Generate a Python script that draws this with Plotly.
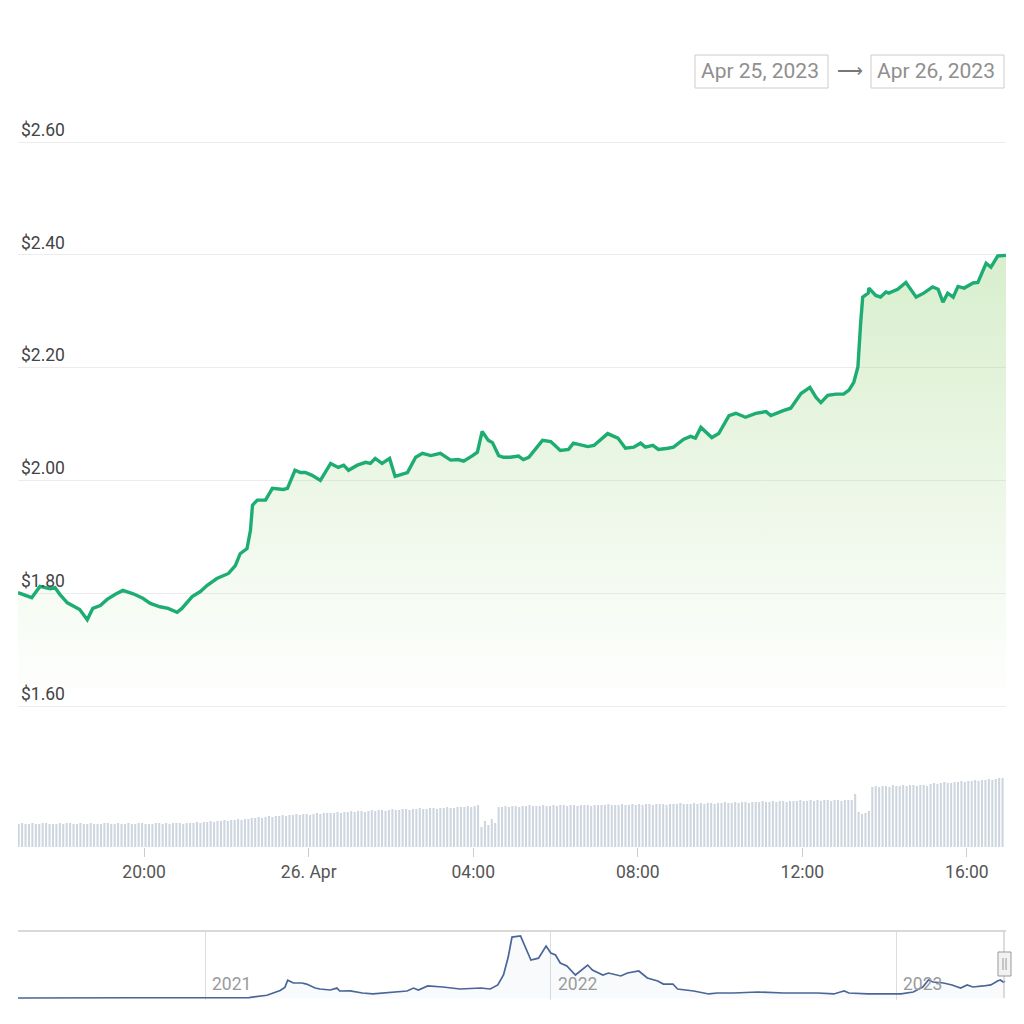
import plotly.graph_objects as go
from datetime import datetime, timedelta

# ---------------- data ----------------
price_times = [
    "2023-04-25 16:56", "2023-04-25 17:06", "2023-04-25 17:16", "2023-04-25 17:28", "2023-04-25 17:43",
    "2023-04-25 17:50", "2023-04-25 17:57", "2023-04-25 18:08", "2023-04-25 18:26", "2023-04-25 18:37",
    "2023-04-25 18:45", "2023-04-25 18:56", "2023-04-25 19:06", "2023-04-25 19:18", "2023-04-25 19:29",
    "2023-04-25 19:44", "2023-04-25 19:58", "2023-04-25 20:09", "2023-04-25 20:23", "2023-04-25 20:35",
    "2023-04-25 20:48", "2023-04-25 20:55", "2023-04-25 21:10", "2023-04-25 21:22", "2023-04-25 21:32",
    "2023-04-25 21:46", "2023-04-25 22:03", "2023-04-25 22:13", "2023-04-25 22:20", "2023-04-25 22:30",
    "2023-04-25 22:35", "2023-04-25 22:38", "2023-04-25 22:45", "2023-04-25 22:57", "2023-04-25 23:04",
    "2023-04-25 23:07", "2023-04-25 23:23", "2023-04-25 23:29", "2023-04-25 23:40", "2023-04-25 23:48",
    "2023-04-25 23:55",
    "2023-04-26 00:05", "2023-04-26 00:17", "2023-04-26 00:32", "2023-04-26 00:43", "2023-04-26 00:51",
    "2023-04-26 00:58", "2023-04-26 01:11", "2023-04-26 01:23", "2023-04-26 01:30", "2023-04-26 01:37",
    "2023-04-26 01:47", "2023-04-26 01:58", "2023-04-26 02:06", "2023-04-26 02:24", "2023-04-26 02:36",
    "2023-04-26 02:46", "2023-04-26 02:58", "2023-04-26 03:12", "2023-04-26 03:27", "2023-04-26 03:38",
    "2023-04-26 03:46", "2023-04-26 03:59", "2023-04-26 04:06", "2023-04-26 04:13", "2023-04-26 04:22",
    "2023-04-26 04:28", "2023-04-26 04:37", "2023-04-26 04:44", "2023-04-26 04:54", "2023-04-26 05:06",
    "2023-04-26 05:13", "2023-04-26 05:21", "2023-04-26 05:41", "2023-04-26 05:53", "2023-04-26 06:07",
    "2023-04-26 06:19", "2023-04-26 06:26", "2023-04-26 06:47", "2023-04-26 06:56", "2023-04-26 07:16",
    "2023-04-26 07:31", "2023-04-26 07:42", "2023-04-26 07:54", "2023-04-26 08:04", "2023-04-26 08:11",
    "2023-04-26 08:22", "2023-04-26 08:30", "2023-04-26 08:44", "2023-04-26 08:52", "2023-04-26 09:07",
    "2023-04-26 09:17", "2023-04-26 09:24", "2023-04-26 09:32", "2023-04-26 09:48", "2023-04-26 09:58",
    "2023-04-26 10:13", "2023-04-26 10:23", "2023-04-26 10:37", "2023-04-26 10:52", "2023-04-26 11:07",
    "2023-04-26 11:14", "2023-04-26 11:33", "2023-04-26 11:43", "2023-04-26 11:58", "2023-04-26 12:11",
    "2023-04-26 12:20", "2023-04-26 12:27", "2023-04-26 12:37", "2023-04-26 12:49", "2023-04-26 13:00",
    "2023-04-26 13:08", "2023-04-26 13:15", "2023-04-26 13:21", "2023-04-26 13:25", "2023-04-26 13:28",
    "2023-04-26 13:36", "2023-04-26 13:37", "2023-04-26 13:47", "2023-04-26 13:54", "2023-04-26 14:02",
    "2023-04-26 14:06", "2023-04-26 14:19", "2023-04-26 14:31", "2023-04-26 14:46", "2023-04-26 14:57",
    "2023-04-26 15:10", "2023-04-26 15:18", "2023-04-26 15:25", "2023-04-26 15:32", "2023-04-26 15:40",
    "2023-04-26 15:47", "2023-04-26 15:56", "2023-04-26 16:09", "2023-04-26 16:16", "2023-04-26 16:28",
    "2023-04-26 16:35", "2023-04-26 16:45", "2023-04-26 16:57",
]
price_values = [
    1.801, 1.796, 1.792, 1.812, 1.808,
    1.810, 1.798, 1.783, 1.771, 1.753,
    1.773, 1.778, 1.789, 1.798, 1.805,
    1.799, 1.791, 1.782, 1.776, 1.773,
    1.766, 1.773, 1.794, 1.803, 1.814,
    1.826, 1.835, 1.849, 1.870, 1.879,
    1.911, 1.956, 1.965, 1.965, 1.979,
    1.986, 1.984, 1.986, 2.018, 2.014,
    2.014,
    2.009, 2.000, 2.030, 2.023, 2.027,
    2.018, 2.027, 2.032, 2.030, 2.039,
    2.030, 2.039, 2.007, 2.014, 2.041,
    2.048, 2.044, 2.048, 2.036, 2.037,
    2.034, 2.044, 2.050, 2.087, 2.071,
    2.067, 2.044, 2.041, 2.041, 2.043,
    2.037, 2.041, 2.071, 2.069, 2.053,
    2.055, 2.066, 2.060, 2.062, 2.083,
    2.075, 2.057, 2.059, 2.066, 2.059,
    2.062, 2.055, 2.057, 2.059, 2.073,
    2.078, 2.075, 2.094, 2.076, 2.083,
    2.115, 2.119, 2.112, 2.119, 2.122,
    2.115, 2.124, 2.128, 2.154, 2.165,
    2.147, 2.138, 2.151, 2.153, 2.153,
    2.160, 2.174, 2.201, 2.279, 2.325,
    2.332, 2.341, 2.328, 2.325, 2.334,
    2.332, 2.339, 2.351, 2.325, 2.332,
    2.343, 2.339, 2.316, 2.332, 2.325,
    2.344, 2.341, 2.350, 2.351, 2.385,
    2.378, 2.398, 2.399,
]

# 5-minute volume bars (arbitrary units)
volume_start = "2023-04-25 16:57"
volume_values = [
    23, 24, 23, 23, 24, 23, 23, 24, 24, 23,
    23, 23, 24, 23, 24, 24, 23, 23, 24, 23,
    23, 24, 23, 23, 23, 24, 24, 23, 23, 24,
    23, 23, 24, 23, 23, 24, 24, 23, 23, 23,
    24, 24, 23, 24, 23, 24, 24, 24, 23, 24,
    24,
    24, 25, 24, 25, 25, 26, 25, 26, 26, 27, 26, 27, 27, 28, 27, 28, 28,
    29, 29, 30, 29, 30, 31, 30, 31, 31, 32, 31, 32, 32, 33, 32, 33, 33, 32, 33, 34, 33, 34, 34, 34,
    34, 35, 34, 35, 35, 36, 35, 36, 36, 35, 36, 37, 36, 37, 37, 36, 37, 38, 37, 37,
    38, 38, 37, 38, 38, 39, 38, 38, 39, 39, 38, 39, 39, 40, 39, 39, 40, 40, 40,
    41, 40, 41, 42, 20, 26, 22, 28, 24, 40,
    40, 41, 40, 41, 41, 40, 41, 41, 42, 41, 41, 41, 42, 41, 41, 42, 41, 42, 42, 41,
    42, 42, 41, 42, 42, 42, 41, 42, 42, 42, 42, 43, 42, 42, 42, 43, 42, 42, 43, 42,
    43, 42, 43, 43, 42, 43, 43, 43, 42, 43, 43, 43, 44, 43, 43, 43, 44, 43, 44, 43,
    44, 44, 43, 44, 44, 45, 44, 44, 45, 44, 45, 45, 44, 45, 45, 45, 46, 45, 45, 46,
    45, 46, 46, 45, 46, 46, 46, 47, 46, 46, 47, 46, 47, 46, 47, 47, 46, 47, 47, 46,
    47, 47, 47,
    53, 35, 33, 34, 36,
    60, 61, 60, 61, 61, 60, 62, 61, 61, 62, 61, 62, 62, 61, 62, 62, 61,
    63, 64, 63, 64, 65, 64, 64, 65, 65, 66, 65, 66, 66, 67, 66, 67, 67, 68, 67, 68, 69, 69,
]

x_tick_times = ["2023-04-25 20:00", "2023-04-26 00:00", "2023-04-26 04:00",
                "2023-04-26 08:00", "2023-04-26 12:00", "2023-04-26 16:00"]
x_tick_labels = ["20:00", "26. Apr", "04:00", "08:00", "12:00", "16:00"]

y_tick_values = [1.60, 1.80, 2.00, 2.20, 2.40, 2.60]
y_tick_labels = ["$1.60", "$1.80", "$2.00", "$2.20", "$2.40", "$2.60"]

# navigator (full history)
nav_dates = [
    "2020-06-16", "2020-08-30", "2020-10-17", "2020-12-27", "2021-02-16", "2021-03-07",
    "2021-03-21", "2021-03-26", "2021-03-29", "2021-04-04", "2021-04-13", "2021-04-18",
    "2021-04-27", "2021-05-02", "2021-05-13", "2021-05-20", "2021-05-23", "2021-06-03",
    "2021-06-16", "2021-06-27", "2021-07-12", "2021-08-02", "2021-08-09", "2021-08-14",
    "2021-08-24", "2021-09-09", "2021-09-27", "2021-10-19", "2021-10-29", "2021-11-06",
    "2021-11-12", "2021-11-17", "2021-11-21", "2021-11-28", "2021-11-30", "2021-12-11",
    "2021-12-19", "2021-12-27", "2022-01-01", "2022-01-06", "2022-01-11", "2022-01-18",
    "2022-01-27", "2022-02-09", "2022-02-14", "2022-02-25", "2022-03-03", "2022-03-16",
    "2022-03-23", "2022-04-04", "2022-04-13", "2022-04-24", "2022-04-30", "2022-05-10",
    "2022-05-15", "2022-06-01", "2022-06-17", "2022-06-26", "2022-07-13", "2022-08-08",
    "2022-09-04", "2022-10-10", "2022-10-27", "2022-11-03", "2022-11-07", "2022-11-12",
    "2022-12-02", "2023-01-06", "2023-01-19", "2023-01-29", "2023-02-04", "2023-02-09",
    "2023-02-20", "2023-03-01", "2023-03-10", "2023-03-17", "2023-03-23", "2023-04-03",
    "2023-04-11", "2023-04-18", "2023-04-21", "2023-04-24", "2023-04-26",
]
nav_prices = [
    0.07, 0.14, 0.10, 0.10, 0.12, 0.45,
    1.10, 1.55, 2.55, 2.15, 2.15, 2.00,
    1.45, 1.32, 1.18, 1.45, 1.04, 1.05,
    0.76, 0.63, 0.76, 1.04, 1.45, 1.18,
    1.74, 1.60, 1.32, 1.46, 1.32, 1.88,
    3.26, 5.76, 8.54, 8.68, 8.68, 5.35,
    5.60, 7.29, 6.32, 6.04, 4.93, 4.51,
    3.26, 4.65, 3.96, 3.26, 3.54, 3.13,
    3.54, 3.82, 2.85, 2.43, 2.01, 2.01,
    1.32, 1.04, 0.63, 0.76, 0.76, 0.90,
    0.76, 0.76, 0.63, 0.90, 1.04, 0.76,
    0.63, 0.63, 0.90, 1.60, 2.57, 2.29,
    2.15, 1.88, 1.46, 1.88, 1.60, 1.74,
    1.88, 2.43, 2.57, 2.29, 2.40,
]
nav_year_ticks = ["2021-01-01", "2022-01-01", "2023-01-01"]
nav_year_labels = ["2021", "2022", "2023"]

date_from_label = "Apr 25, 2023"
date_to_label = "Apr 26, 2023"

# ---------------- layout helpers ----------------
W = H = 1024
def px(x):
    return x / W
def py(y):
    return 1 - y / H

FONT = "Roboto, 'Noto Sans', Arial, sans-serif"
t0 = datetime.strptime(volume_start, "%Y-%m-%d %H:%M")
volume_times = [(t0 + timedelta(minutes=5 * i)).strftime("%Y-%m-%d %H:%M") for i in range(len(volume_values))]

fig = go.Figure()

fig.add_trace(go.Scatter(
    x=price_times, y=price_values, mode="lines",
    line=dict(color="#1dad72", width=3.4),
    fill="tozeroy",
    fillgradient=dict(type="vertical",
                      colorscale=[[0, "rgba(150,210,120,0.0)"], [1, "rgba(150,210,120,0.38)"]],
                      start=1.60, stop=2.42),
    xaxis="x", yaxis="y", hoverinfo="skip",
))

fig.add_trace(go.Bar(
    x=volume_times, y=volume_values,
    marker=dict(color="#cdd5de", line=dict(width=0)),
    xaxis="x2", yaxis="y2", hoverinfo="skip",
))

fig.add_trace(go.Scatter(
    x=nav_dates, y=nav_prices, mode="lines",
    line=dict(color="#4a6598", width=1.7),
    fill="tozeroy", fillcolor="rgba(80,120,180,0.04)",
    xaxis="x3", yaxis="y3", hoverinfo="skip",
))

xdom = [px(18), px(1006)]
main_range = [price_times[0], price_times[-1]]

fig.update_layout(
    width=W, height=H, autosize=False,
    margin=dict(l=0, r=0, t=0, b=0),
    paper_bgcolor="white", plot_bgcolor="white",
    showlegend=False, bargap=0.4,
    font=dict(family=FONT),
    xaxis=dict(domain=xdom, range=main_range, anchor="y",
               showticklabels=False, showgrid=False, zeroline=False, showline=False, ticks=""),
    yaxis=dict(domain=[py(710), py(100)], range=[1.5929, 2.6745], anchor="x",
               tickvals=y_tick_values, ticktext=y_tick_labels,
               ticklabelposition="inside top",
               tickfont=dict(size=17.5, color="#444", family=FONT),
               showgrid=True, gridcolor="#ececec", gridwidth=1,
               zeroline=False, showline=False, ticks=""),
    xaxis2=dict(domain=xdom, range=main_range, matches="x", anchor="y2",
                tickvals=x_tick_times, ticktext=x_tick_labels,
                tickfont=dict(size=17.5, color="#555", family=FONT),
                ticks="outside", ticklen=9, tickcolor="#cccccc", tickwidth=1,
                showgrid=False, zeroline=False, showline=False),
    yaxis2=dict(domain=[py(847), py(717)], range=[0, 130], anchor="x2",
                visible=False, showgrid=False, zeroline=False),
    xaxis3=dict(domain=xdom, range=["2020-06-17", "2023-04-27"], anchor="y3",
                tickvals=nav_year_ticks, showticklabels=False,
                showgrid=True, gridcolor="#dddddd", gridwidth=1,
                zeroline=False, showline=False, ticks=""),
    yaxis3=dict(domain=[py(1000), py(932)], range=[-0.21, 9.24], anchor="x3",
                visible=False, showgrid=False, zeroline=False),
)

shapes = [
    # navigator top border
    dict(type="line", xref="paper", yref="paper", x0=px(18), x1=px(1006), y0=py(931), y1=py(931),
         line=dict(color="#cccccc", width=1.5)),
    # navigator selection right edge
    dict(type="line", xref="paper", yref="paper", x0=px(1004), x1=px(1004), y0=py(932), y1=py(998),
         line=dict(color="#bbbbbb", width=1)),
    # navigator handle
    dict(type="rect", xref="paper", yref="paper", x0=px(998), x1=px(1011), y0=py(976), y1=py(952),
         line=dict(color="#999999", width=1), fillcolor="#f2f2f2"),
    dict(type="line", xref="paper", yref="paper", x0=px(1003), x1=px(1003), y0=py(970), y1=py(958),
         line=dict(color="#999999", width=1)),
    dict(type="line", xref="paper", yref="paper", x0=px(1006), x1=px(1006), y0=py(970), y1=py(958),
         line=dict(color="#999999", width=1)),
    # date boxes
    dict(type="rect", xref="paper", yref="paper", x0=px(695), x1=px(828), y0=py(88), y1=py(55),
         line=dict(color="#cccccc", width=1), fillcolor="white"),
    dict(type="rect", xref="paper", yref="paper", x0=px(871), x1=px(1004), y0=py(88), y1=py(55),
         line=dict(color="#cccccc", width=1), fillcolor="white"),
]

annotations = [
    dict(text=date_from_label, xref="paper", yref="paper", x=px(760), y=py(70.5),
         xanchor="center", yanchor="middle", showarrow=False,
         font=dict(size=21, color="#8f8f8f", family=FONT)),
    dict(text="⟶", xref="paper", yref="paper", x=px(850), y=py(70.5),
         xanchor="center", yanchor="middle", showarrow=False,
         font=dict(size=18, color="#777777", family=FONT)),
    dict(text=date_to_label, xref="paper", yref="paper", x=px(936), y=py(70.5),
         xanchor="center", yanchor="middle", showarrow=False,
         font=dict(size=21, color="#8f8f8f", family=FONT)),
]
for d, lab in zip(nav_year_ticks, nav_year_labels):
    annotations.append(dict(text=lab, xref="x3", yref="paper", x=d, y=py(984),
                            xanchor="left", yanchor="middle", xshift=5, showarrow=False,
                            font=dict(size=17.5, color="#9a9a9a", family=FONT)))

fig.update_layout(shapes=shapes, annotations=annotations)

fig.write_html("out.html")
